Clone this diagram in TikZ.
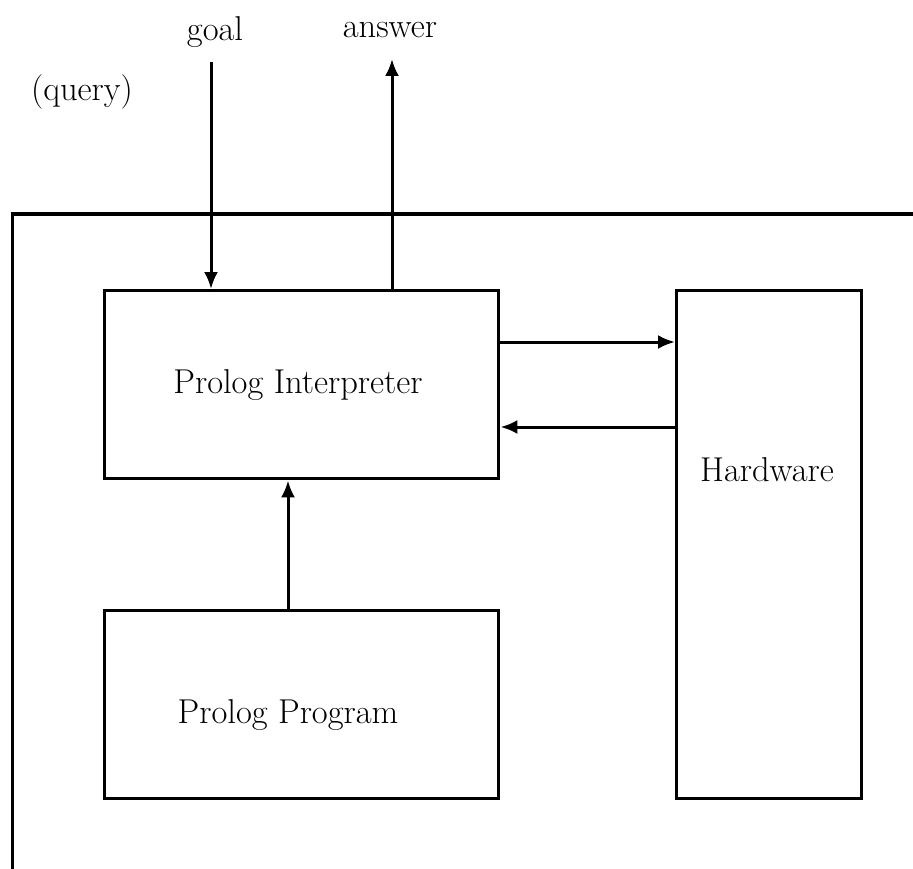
\documentclass[tikz,border=0pt]{standalone}
\usetikzlibrary{arrows.meta}
\begin{document}
\begin{tikzpicture}[x=1pt,y=-1pt,
  line width=3.2pt,
  blk/.style={draw,line width=3.4pt,anchor=north west,inner sep=0pt},
  lbl/.style={font=\fontsize{34.5}{40}\selectfont},
  arr/.style={-{Latex[length=17pt,width=14pt]},line width=3pt}]
\useasboundingbox (0,0) rectangle (913,869);
% open system frame
\draw[line width=3.3pt] (12.5,869) -- (12.5,214) -- (913,214);
% blocks
\node[blk,minimum width=394pt,minimum height=188pt] (interp) at (103,289) {};
\node[blk,minimum width=394pt,minimum height=188pt] (prog) at (103,609) {};
\node[blk,minimum width=185pt,minimum height=508pt] (hw) at (675,289) {};
\node[lbl] at (298,385) {Prolog Interpreter};
\node[lbl] at (288,715) {Prolog Program};
\node[lbl] at (767,470) {Hardware};
% outside labels
\node[lbl] (goal) at (215,32) {goal};
\node[lbl] (answer) at (390,30) {answer};
\node[lbl] (query) at (82,92) {(query)};
\coordinate (gtop) at (211,62);
\coordinate (atop) at (392,59);
% connectors
\draw[arr] (gtop) -- (gtop |- interp.north);
\draw[arr] (interp.north -| atop) -- (atop);
\draw[arr] (interp.east |- 0,342) -- (hw.west |- 0,342);
\draw[arr] (hw.west |- 0,427) -- (interp.east |- 0,427);
\draw[arr] (prog.north -| 288,0) -- (interp.south -| 288,0);
\end{tikzpicture}
\end{document}
